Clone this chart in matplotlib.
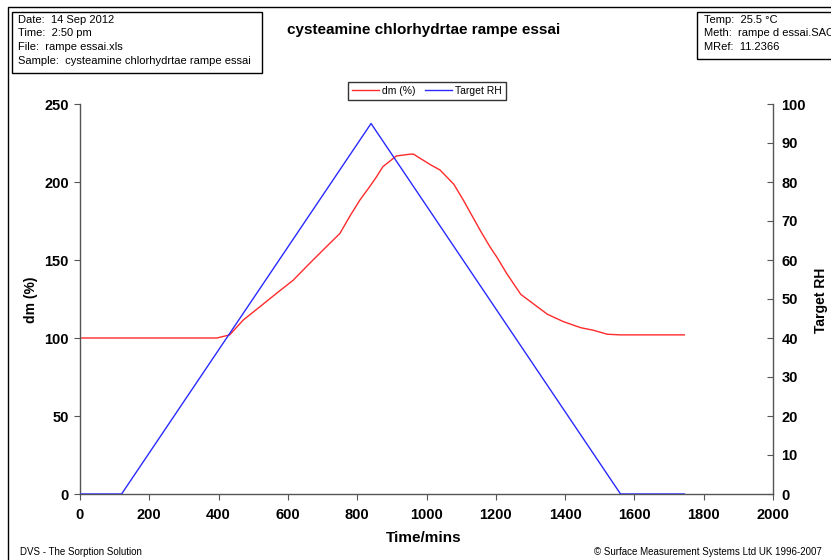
import matplotlib.pyplot as plt
from matplotlib.patches import Rectangle
from matplotlib.lines import Line2D

plt.rcParams['font.family'] = ['Liberation Sans', 'DejaVu Sans']

# mass change (dm %) vs time
DM_TIME = [0, 395, 432, 471, 519, 567, 615, 663, 711, 750, 778, 808, 836, 856, 874,
           913, 952, 962, 1012, 1039, 1079, 1106, 1156, 1183, 1204, 1231, 1272,
           1308, 1349, 1395, 1445, 1481, 1522, 1560, 1744]
DM_PCT = [100, 100, 102, 111.5, 120, 128.6, 137, 147.9, 158.5, 167, 177.8, 188.5, 197,
          203.4, 209.8, 216.7, 217.8, 217.9, 211, 207.7, 198.5, 188.5, 168.6, 158.5,
          151.5, 141.5, 128, 122, 115.2, 110.5, 106.6, 105, 102.4, 102, 102]

# target relative humidity program
RH_TIME = [0, 120, 840, 1560, 1744]
RH_TARGET = [0, 0, 95, 0, 0]

X_TICKS = [0, 200, 400, 600, 800, 1000, 1200, 1400, 1600, 1800, 2000]
LEFT_TICKS = [0, 50, 100, 150, 200, 250]
RIGHT_TICKS = [0, 10, 20, 30, 40, 50, 60, 70, 80, 90, 100]

W, H = 831, 560
fig = plt.figure(figsize=(W / 100, H / 100), dpi=100)

ax = fig.add_axes([80 / W, 1 - 494 / H, (773 - 80) / W, (494 - 104) / H])
ax2 = ax.twinx()

ax.plot(DM_TIME, DM_PCT, color='#ff2a2a', lw=1.0, solid_joinstyle='round')
ax2.plot(RH_TIME, RH_TARGET, color='#2a2aff', lw=1.0)

ax.set_xlim(0, 2000)
ax.set_ylim(0, 250)
ax2.set_ylim(0, 100)
ax.set_xticks(X_TICKS)
ax.set_yticks(LEFT_TICKS)
ax2.set_yticks(RIGHT_TICKS)

axis_col = '#555555'
for a in (ax, ax2):
    a.spines['top'].set_visible(False)
    for s in ('left', 'right', 'bottom'):
        a.spines[s].set_color(axis_col)
        a.spines[s].set_linewidth(1.0)
ax.spines['right'].set_visible(False)
ax2.spines['left'].set_visible(False)
ax2.spines['bottom'].set_visible(False)

ax.tick_params(axis='x', direction='out', length=4, color=axis_col, pad=6,
               labelsize=10.5)
ax.tick_params(axis='y', direction='out', length=4, color=axis_col, pad=4,
               labelsize=10.5)
ax2.tick_params(axis='y', direction='in', length=4, color=axis_col, pad=6,
                labelsize=10.5)
for lab in ax.get_xticklabels() + ax.get_yticklabels() + ax2.get_yticklabels():
    lab.set_fontweight('bold')

# axis titles
fig.text(424 / W, 1 - 538 / H, 'Time/mins', ha='center', va='center',
         fontsize=11, fontweight='bold')
fig.text(31 / W, 1 - 300 / H, 'dm (%)', ha='center', va='center',
         rotation=90, fontsize=10, fontweight='bold')
fig.text(821 / W, 1 - 300 / H, 'Target RH', ha='center', va='center',
         rotation=90, fontsize=10, fontweight='bold')

# chart title
fig.text(424 / W, 1 - 30 / H, 'cysteamine chlorhydrtae rampe essai',
         ha='center', va='center', fontsize=11, fontweight='bold')

# outer frame
fig.patches.append(Rectangle((8 / W, -0.1), 1.2, 1 - 7 / H + 0.1,
                             transform=fig.transFigure, fill=False,
                             edgecolor='black', lw=1.0))

# info boxes
fig.patches.append(Rectangle((12 / W, 1 - 73 / H), 250 / W, 61 / H,
                             transform=fig.transFigure, fill=False,
                             edgecolor='black', lw=1.0))
info_left = ['Date:  14 Sep 2012', 'Time:  2:50 pm', 'File:  rampe essai.xls',
             'Sample:  cysteamine chlorhydrtae rampe essai']
for i, line in enumerate(info_left):
    fig.text(18 / W, 1 - (20 + i * 13.5) / H, line, ha='left', va='center',
             fontsize=8)

fig.patches.append(Rectangle((697 / W, 1 - 59 / H), 200 / W, 47 / H,
                             transform=fig.transFigure, fill=False,
                             edgecolor='black', lw=1.0))
info_right = ['Temp:  25.5 \u00b0C', 'Meth:  rampe d essai.SAO', 'MRef:  11.2366']
for i, line in enumerate(info_right):
    fig.text(704 / W, 1 - (20 + i * 13.5) / H, line, ha='left', va='center',
             fontsize=8)

# legend
handles = [Line2D([], [], color='#ff2a2a', lw=1.0),
           Line2D([], [], color='#2a2aff', lw=1.0)]
leg = fig.legend(handles, ['dm (%)', 'Target RH'], loc='center',
                 bbox_to_anchor=(427 / W, 1 - 91 / H), ncol=2, fontsize=7.5,
                 frameon=True, fancybox=False, handlelength=2.6,
                 handletextpad=0.3, columnspacing=0.9, borderpad=0.35)
leg.get_frame().set_edgecolor('black')
leg.get_frame().set_linewidth(1.0)

# footer
fig.text(20 / W, 1 - 552 / H, 'DVS - The Sorption Solution', ha='left',
         va='center', fontsize=7)
fig.text(822 / W, 1 - 552 / H,
         '\u00a9 Surface Measurement Systems Ltd UK 1996-2007', ha='right',
         va='center', fontsize=7)

fig.savefig('out.png', dpi=100)
